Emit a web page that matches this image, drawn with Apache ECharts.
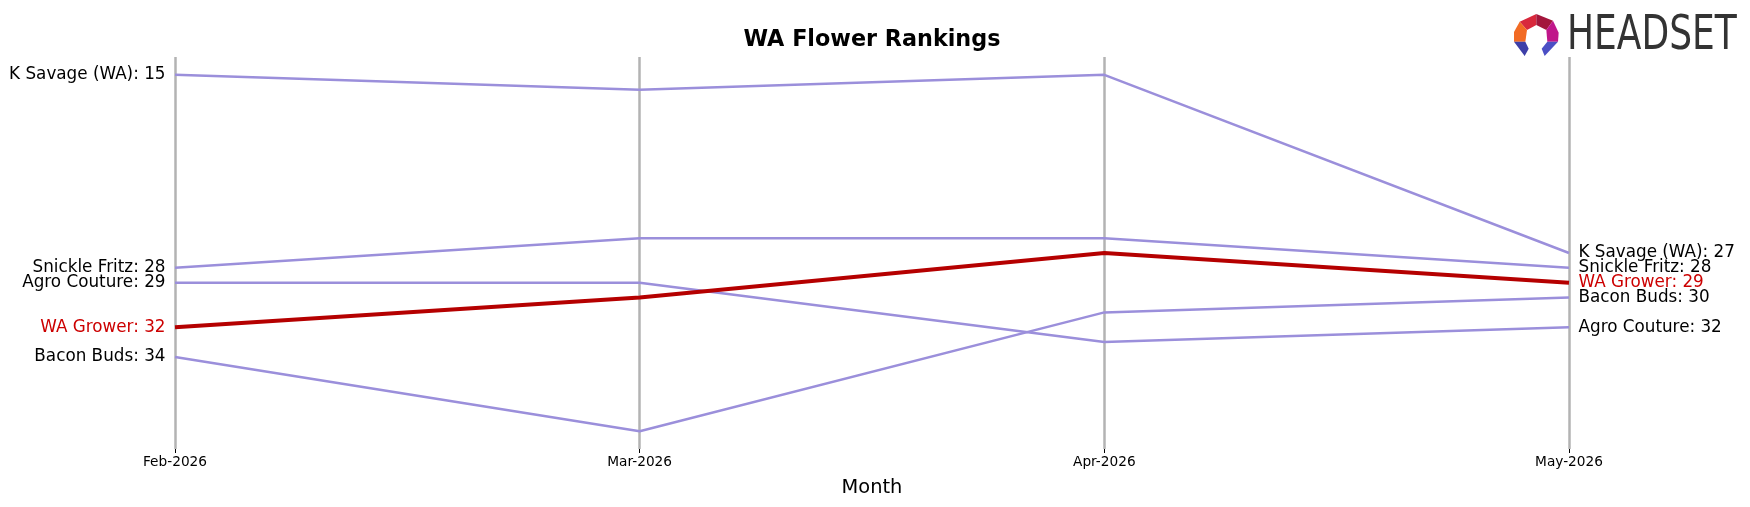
<!DOCTYPE html>
<html>
<head>
<meta charset="utf-8">
<script src="https://cdn.jsdelivr.net/npm/echarts@6/dist/echarts.min.js"></script>
<style>
  html, body { margin: 0; padding: 0; background: #fff; }
  #main { width: 1750px; height: 507px; }
</style>
</head>
<body>
<div id="main"></div>
<script>
// months on the x axis
var months = ['Feb-2026', 'Mar-2026', 'Apr-2026', 'May-2026']
// rank per month (lower is better)
var kSavage = [15, 16, 15, 27]
var snickleFritz = [28, 26, 26, 28]
var agroCouture = [29, 29, 33, 32]
var baconBuds = [34, 39, 31, 30]
var waGrower = [32, 30, 27, 29]

var brandNames = ['K Savage (WA)', 'Snickle Fritz', 'Agro Couture', 'Bacon Buds', 'WA Grower']
var brandRanks = [kSavage, snickleFritz, agroCouture, baconBuds, waGrower]
var highlight = 'WA Grower'

var purple = '#9b8fdb'
var red = '#b50000'
var font = 'DejaVu Sans'

function makeData(name, ranks, labelColor) {
    var out = []
    for (let i = 0; i < ranks.length; i++) {
        let item = { value: ranks[i] }
        if (i === 0 || i === ranks.length - 1) {
            item.label = {
                show: true,
                position: i === 0 ? 'left' : 'right',
                distance: 9,
                formatter: name + ': ' + ranks[i],
                color: labelColor,
                fontFamily: font,
                fontSize: 16.8
            }
        }
        out.push(item)
    }
    return out
}

var series = []
for (let i = 0; i < brandNames.length; i++) {
    let isHi = brandNames[i] === highlight
    series.push({
        name: brandNames[i],
        type: 'line',
        data: makeData(brandNames[i], brandRanks[i], isHi ? '#cc0000' : '#000'),
        symbol: 'circle',
        symbolSize: 1,
        showSymbol: true,
        itemStyle: { color: 'rgba(0,0,0,0)' },
        lineStyle: { color: isHi ? red : purple, width: isHi ? 4 : 2.5 },
        z: isHi ? 5 : 3,
        silent: true
    })
}

// Headset logo pieces (drawn in a 3x box then scaled down)
var logoParts = [
    { pts: [[35, 35], [85, 12], [85, 45], [57, 60]], color: '#d8283c' },
    { pts: [[85, 12], [135, 32], [115, 60], [85, 45]], color: '#a3163c' },
    { pts: [[35, 35], [57, 60], [52, 95], [18, 95], [18, 66]], color: '#f26b24' },
    { pts: [[135, 32], [152, 68], [150, 95], [118, 95], [115, 60]], color: '#c0178a' },
    { pts: [[18, 95], [52, 95], [62, 116], [50, 138]], color: '#3d3fa8' },
    { pts: [[118, 95], [150, 95], [110, 138], [101, 116]], color: '#4b4fc4' }
]
var logoChildren = logoParts.map(function (p) {
    return { type: 'polygon', shape: { points: p.pts }, style: { fill: p.color } }
})

var mCharts = echarts.init(document.getElementById('main'))
var option = {
    animation: false,
    backgroundColor: '#fff',
    title: {
        text: 'WA Flower Rankings',
        left: 867,
        textAlign: 'center',
        top: 24,
        textStyle: { fontFamily: font, fontWeight: 'bold', fontSize: 22.3, color: '#000' }
    },
    grid: { left: 175, right: 181, top: 57, bottom: 58 },
    xAxis: {
        type: 'category',
        data: months,
        boundaryGap: false,
        axisLine: { show: false },
        axisTick: { show: true, length: 4, lineStyle: { color: '#000', width: 1 } },
        axisLabel: { fontFamily: font, fontSize: 13.7, color: '#000', margin: 6 },
        splitLine: { show: true, lineStyle: { color: '#b3b3b3', width: 2.5 } },
        name: 'Month',
        nameLocation: 'middle',
        nameGap: 29,
        nameTextStyle: { fontFamily: font, fontSize: 19.4, color: '#000' }
    },
    yAxis: {
        type: 'value',
        inverse: true,
        min: 13.8,
        max: 40.2,
        show: false,
        splitLine: { show: false }
    },
    graphic: [
        { type: 'group', x: 1508, y: 10, scaleX: 1 / 3, scaleY: 1 / 3, children: logoChildren },
        {
            type: 'text', x: 1567, y: 13, scaleX: 0.75,
            style: { text: 'HEADSET', fontFamily: font, fontSize: 48, fill: '#333', textVerticalAlign: 'top' }
        }
    ],
    series: series
}
mCharts.setOption(option)
</script>
</body>
</html>
